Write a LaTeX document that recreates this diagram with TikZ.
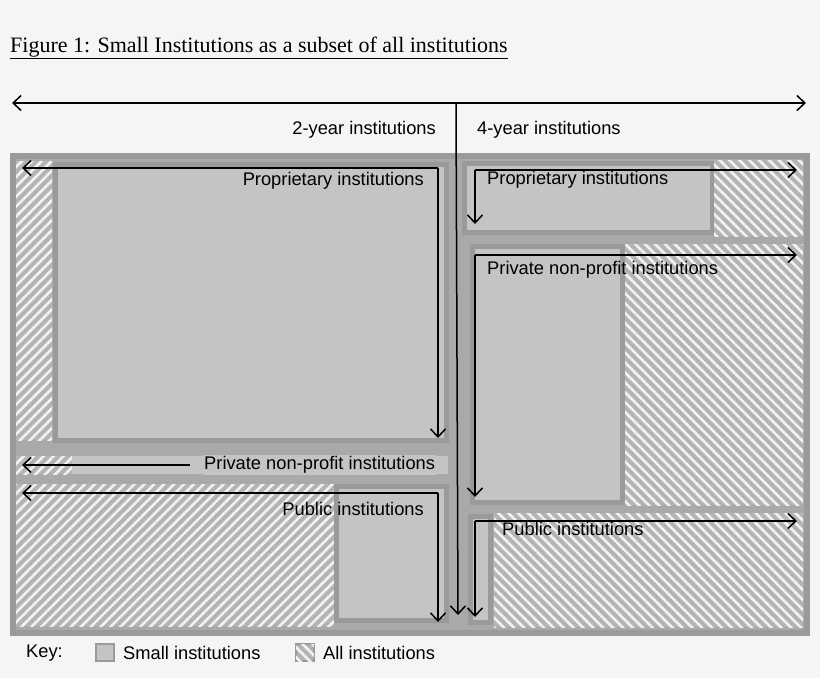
\documentclass[tikz,border=0pt]{standalone}
\usepackage{fontspec}
\setmainfont{Liberation Sans}
\newfontfamily\titlefont{Liberation Serif}
\usetikzlibrary{patterns.meta,arrows.meta}
\definecolor{frame}{HTML}{9A9A9A}
\definecolor{solidc}{HTML}{C4C4C4}
\definecolor{hatchbg}{HTML}{B4B4B4}
\tikzset{
 solidbox/.style={fill=solidc,draw=frame,line width=5pt},
 hatchL/.style={fill=hatchbg,postaction={pattern={Lines[angle=45,distance=7pt,line width=2.6pt]},pattern color=white!90!gray}},
 hatchR/.style={fill=hatchbg,postaction={pattern={Lines[angle=-45,distance=7pt,line width=2.6pt]},pattern color=white!90!gray}},
 arr/.style={line width=1.5pt,-{Straight Barb[length=8pt,width=15pt]}},
 lab/.style={font=\fontsize{18.3}{20}\selectfont,inner sep=1pt}
}
\begin{document}
\begin{tikzpicture}[x=1pt,y=-1pt]
\useasboundingbox (0,0) rectangle (820,678);
\fill[white!96!black] (0,0) rectangle (820,678);
\node[anchor=west,font=\titlefont\fontsize{22}{24}\selectfont,inner sep=0] (title) at (10,48) {\underline{Figure 1: Small Institutions as a subset of all institutions}};
% frame
\fill[frame] (10,153) rectangle (810,636);
\fill[frame!85!white] (16,159) rectangle (804,630);
% left proprietary
\fill[hatchL] (16,161) rectangle (52,440);
\draw[solidbox] (55,164) rectangle (446,440);
% left private
\fill[hatchL] (16,456) rectangle (72,474);
\fill[solidc] (72,456) rectangle (448,474);
% left public
\fill[hatchL] (16,484) rectangle (334,626);
\draw[solidbox] (336,486) rectangle (446,620);
% right proprietary
\draw[solidbox] (464,163) rectangle (712,232);
\fill[hatchR] (714,160) rectangle (803,236);
% right private
\draw[solidbox] (472,246) rectangle (622,502);
\fill[hatchR] (625,244) rectangle (803,505);
% right public
\draw[solidbox] (470,516) rectangle (490,622);
\fill[hatchR] (494,513) rectangle (803,627);
% top arrows
\coordinate (tl) at (12,103); \coordinate (tr) at (806,103);
\coordinate (tc) at (456,103); \coordinate (tb) at (458,615);
\draw[line width=1.5pt,{Straight Barb[length=8pt,width=15pt]}-{Straight Barb[length=8pt,width=15pt]}] (tl) -- (tr);
\draw[arr] (tc) -- (tb);
\node[lab,anchor=east] (two) at (437,130) {2-year institutions};
\node[lab,anchor=west] (four) at (476,130) {4-year institutions};
% left arrows
\coordinate (lp0) at (438,168); \coordinate (lp1) at (22,168); \coordinate (lp2) at (438,438);
\draw[arr] (lp0) -- (lp1); \draw[arr] (lp0) -- (lp2);
\node[lab,anchor=east] (lpt) at (425,181) {Proprietary institutions};
\coordinate (lv0) at (190,465); \coordinate (lv1) at (22,465);
\draw[arr] (lv0) -- (lv1);
\node[lab,anchor=west,fill=solidc] (lvt) at (203,465) {Private non-profit institutions};
\coordinate (lu0) at (438,493); \coordinate (lu1) at (22,493); \coordinate (lu2) at (438,622);
\draw[arr] (lu0) -- (lu1); \draw[arr] (lu0) -- (lu2);
\node[lab,anchor=east] (lut) at (425,509) {Public institutions};
% right arrows
\coordinate (rp0) at (475,170); \coordinate (rp1) at (797,170); \coordinate (rp2) at (475,224);
\draw[arr] (rp0) -- (rp1); \draw[arr] (rp0) -- (rp2);
\node[lab,anchor=west] (rpt) at (486,180) {Proprietary institutions};
\coordinate (rv0) at (475,255); \coordinate (rv1) at (797,255); \coordinate (rv2) at (475,497);
\draw[arr] (rv0) -- (rv1); \draw[arr] (rv0) -- (rv2);
\node[lab,anchor=west] (rvt) at (486,270) {Private non-profit institutions};
\coordinate (ru0) at (475,521); \coordinate (ru1) at (797,521); \coordinate (ru2) at (475,617);
\draw[arr] (ru0) -- (ru1); \draw[arr] (ru0) -- (ru2);
\node[lab,anchor=west] (rut) at (501,529) {Public institutions};
% key
\node[lab,anchor=west] (key) at (25,653) {Key:};
\draw[fill=solidc,draw=frame,line width=2pt] (96,644) rectangle (114,661);
\node[lab,anchor=west] (ks) at (122,653) {Small institutions};
\draw[hatchR,draw=frame,line width=2pt] (296,644) rectangle (314,661);
\node[lab,anchor=west] (ka) at (322,653) {All institutions};
\end{tikzpicture}
\end{document}
